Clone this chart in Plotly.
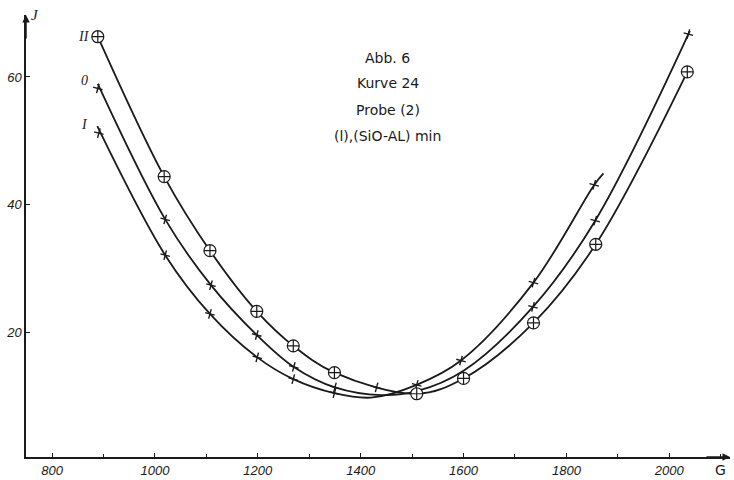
import plotly.graph_objects as go

# ---- data ----
# Curve I (lowest on the left)
curve_I_G = [888, 1020, 1107, 1199, 1269, 1349, 1420, 1509, 1595, 1736, 1854, 1872]
curve_I_J = [52.3, 32.1, 22.9, 16.1, 12.7, 10.5, 9.8, 11.8, 15.6, 27.8, 43.1, 44.9]
pts_I_G = [891, 1020, 1107, 1199, 1269, 1349, 1509, 1595, 1736, 1854]
pts_I_J = [51.2, 32.1, 22.9, 16.1, 12.7, 10.5, 11.8, 15.6, 27.8, 43.1]

# Curve 0 (middle)
curve_0_G = [889, 1020, 1109, 1198, 1270, 1350, 1440, 1509, 1600, 1735, 1856, 2040]
curve_0_J = [58.9, 37.7, 27.4, 19.6, 14.6, 11.4, 10.2, 10.8, 14.0, 24.0, 37.5, 67.2]
pts_0_G = [889, 1020, 1109, 1198, 1270, 1350, 1431, 1735, 1856, 2037]
pts_0_J = [58.2, 37.7, 27.4, 19.6, 14.6, 11.4, 11.4, 24.0, 37.5, 66.7]

# Curve II (circled points)
pts_II_G = [889, 1018, 1107, 1198, 1269, 1349, 1509, 1600, 1736, 1857, 2035]
pts_II_J = [66.3, 44.4, 32.8, 23.3, 17.9, 13.7, 10.4, 12.8, 21.5, 33.8, 60.8]

x_ticks = [800, 1000, 1200, 1400, 1600, 1800, 2000]
y_ticks = [20, 40, 60]
title_lines = ["Abb. 6", "Kurve 24", "Probe (2)", "(l),(SiO-AL) min"]
curve_names = ["II", "0", "I"]
curve_label_J = [66.3, 59.5, 52.5]

INK = "#1a1a1a"
fig = go.Figure()

for g, j in [(curve_I_G, curve_I_J), (curve_0_G, curve_0_J), (pts_II_G, pts_II_J)]:
    fig.add_trace(go.Scatter(x=g, y=j, mode="lines",
                             line=dict(color=INK, width=1.8, shape="spline", smoothing=1.0),
                             hoverinfo="skip", showlegend=False))

for g, j in [(pts_I_G, pts_I_J), (pts_0_G, pts_0_J)]:
    fig.add_trace(go.Scatter(x=g, y=j, mode="markers",
                             marker=dict(symbol="cross-thin", size=7, angle=15,
                                         line=dict(color=INK, width=1.4)),
                             showlegend=False))

fig.add_trace(go.Scatter(x=pts_II_G, y=pts_II_J, mode="markers",
                         marker=dict(symbol="circle-cross", size=12, color="white",
                                     line=dict(color=INK, width=1.2)),
                         showlegend=False))

# curve labels
for name, jv in zip(curve_names, curve_label_J):
    fig.add_annotation(x=863, y=jv, xref="x", yref="y", text=name, showarrow=False,
                       font=dict(family="Liberation Serif", size=14, color=INK, style="italic"))

# title block
title_y = [0.925, 0.868, 0.808, 0.749]
for t, yy in zip(title_lines, title_y):
    fig.add_annotation(x=0.514, y=yy, xref="paper", yref="paper", text=t, showarrow=False,
                       font=dict(family="DejaVu Sans", size=14, color=INK))

# axis arrows
fig.add_annotation(x=0, y=1, xref="paper", yref="paper", ax=0, ay=25, text="",
                   showarrow=True, arrowhead=2, arrowsize=1, arrowwidth=1.5, arrowcolor=INK)
fig.add_annotation(x=1, y=0, xref="paper", yref="paper", ax=-25, ay=0, text="",
                   showarrow=True, arrowhead=2, arrowsize=1, arrowwidth=1.5, arrowcolor=INK)
fig.add_annotation(x=0.0128, y=1.0, xref="paper", yref="paper", text="J", showarrow=False,
                   xanchor="center", yanchor="middle",
                   font=dict(family="Liberation Serif", size=15, color=INK, style="italic"))
fig.add_annotation(x=0.986, y=-0.030, xref="paper", yref="paper", text="G", showarrow=False,
                   xanchor="center", yanchor="middle",
                   font=dict(family="DejaVu Sans", size=14, color=INK))

tickfont = dict(family="Liberation Sans", size=13, color=INK, style="italic")
fig.update_layout(
    width=734, height=480,
    margin=dict(l=26, r=4, t=15, b=23),
    paper_bgcolor="white", plot_bgcolor="white",
    showlegend=False,
    xaxis=dict(range=[749.4, 2118], tickvals=x_ticks, ticktext=[str(v) for v in x_ticks],
               ticks="inside", ticklen=4, tickcolor=INK, showgrid=False, zeroline=False,
               showline=True, linecolor=INK, linewidth=1.5, tickfont=tickfont,
               ticklabelstandoff=1, automargin=False,
               minor=dict(ticks="inside", ticklen=3, dtick=100, tick0=800, tickcolor=INK, showgrid=False)),
    yaxis=dict(range=[0.5, 69.7], tickvals=y_ticks, ticktext=[str(v) for v in y_ticks],
               ticks="inside", ticklen=4, tickcolor=INK, showgrid=False, zeroline=False,
               showline=True, linecolor=INK, linewidth=1.5, tickfont=tickfont,
               automargin=False),
)

fig.write_html("out.html")
